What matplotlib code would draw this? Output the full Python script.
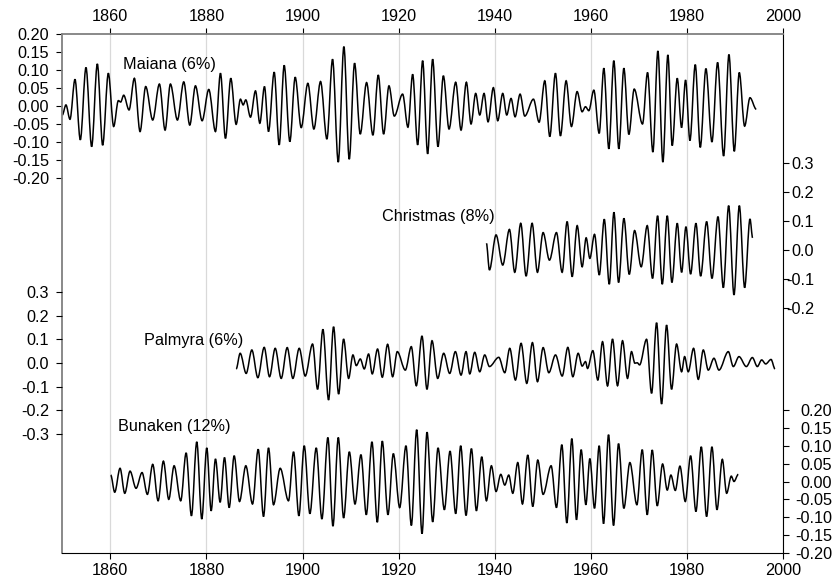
import matplotlib
matplotlib.use("Agg")
import matplotlib.pyplot as plt
from matplotlib.path import Path
from matplotlib.patches import PathPatch

plt.rcParams['font.family'] = ['Liberation Sans', 'DejaVu Sans']
plt.rcParams['axes.unicode_minus'] = False

# ---- data: turning points (year, value) of each filtered record ----
maiana_year = [1850.00, 1850.76, 1851.60, 1852.64, 1853.75, 1854.93, 1856.11, 1857.29, 1858.40, 1859.58,
               1860.69, 1861.67, 1862.15, 1862.78, 1863.89, 1865.00, 1866.18, 1867.36, 1868.82, 1870.21,
               1871.39, 1872.50, 1873.96, 1875.28, 1876.53, 1877.71, 1879.10, 1880.49, 1881.88, 1882.92,
               1883.96, 1885.07, 1886.18, 1887.08, 1887.64, 1888.19, 1889.17, 1890.21, 1891.11, 1892.08,
               1892.92, 1894.10, 1895.14, 1896.18, 1897.36, 1898.47, 1899.72, 1901.11, 1902.36, 1903.75,
               1905.07, 1906.25, 1907.43, 1908.61, 1909.72, 1910.83, 1912.01, 1913.33, 1914.65, 1915.76,
               1916.88, 1917.99, 1919.10, 1920.83, 1921.94, 1922.92, 1923.96, 1925.00, 1926.04, 1927.08,
               1928.19, 1929.31, 1930.49, 1931.88, 1932.99, 1934.10, 1935.07, 1936.04, 1936.88, 1937.78,
               1938.61, 1939.72, 1940.63, 1941.67, 1942.50, 1943.40, 1944.24, 1945.28, 1946.25, 1948.06,
               1949.24, 1950.42, 1951.46, 1952.64, 1953.68, 1954.86, 1955.97, 1957.15, 1958.19, 1958.89,
               1959.58, 1960.63, 1961.74, 1962.71, 1963.75, 1964.79, 1965.83, 1966.88, 1967.92, 1969.03,
               1970.76, 1971.81, 1972.92, 1973.96, 1975.00, 1976.04, 1976.94, 1977.99, 1978.89, 1979.72,
               1980.63, 1981.74, 1982.78, 1983.96, 1985.21, 1986.39, 1987.64, 1988.75, 1989.86, 1990.90,
               1992.01, 1993.13, 1994.44]
maiana_value = [-0.025, 0.003, -0.037, 0.074, -0.094, 0.107, -0.113, 0.117, -0.109, 0.091,
                -0.057, 0.015, 0.011, 0.030, -0.011, 0.077, -0.071, 0.054, -0.039, 0.061,
                -0.067, 0.061, -0.039, 0.067, -0.053, 0.056, -0.041, 0.046, -0.071, 0.091,
                -0.090, 0.077, -0.051, 0.019, 0.003, 0.017, -0.031, 0.042, -0.048, 0.054,
                -0.071, 0.094, -0.108, 0.113, -0.099, 0.080, -0.060, 0.063, -0.064, 0.068,
                -0.092, 0.130, -0.156, 0.165, -0.148, 0.119, -0.078, 0.065, -0.081, 0.086,
                -0.078, 0.056, -0.028, 0.033, -0.059, 0.088, -0.108, 0.126, -0.133, 0.130,
                -0.113, 0.084, -0.064, 0.066, -0.067, 0.066, -0.050, 0.035, -0.025, 0.035,
                -0.044, 0.051, -0.041, 0.035, -0.025, 0.021, -0.030, 0.033, -0.028, 0.019,
                -0.045, 0.070, -0.085, 0.091, -0.083, 0.070, -0.057, 0.040, -0.016, -0.002,
                -0.013, 0.044, -0.076, 0.105, -0.119, 0.126, -0.119, 0.105, -0.079, 0.047,
                -0.050, 0.093, -0.128, 0.153, -0.156, 0.142, -0.110, 0.077, -0.060, 0.072,
                -0.096, 0.115, -0.115, 0.104, -0.100, 0.121, -0.139, 0.143, -0.126, 0.093,
                -0.056, 0.023, -0.009]

christmas_year = [1938.27, 1938.90, 1940.28, 1941.67, 1943.06, 1944.17, 1945.42, 1946.53, 1947.78, 1948.89,
                  1950.07, 1951.39, 1952.85, 1954.03, 1955.07, 1956.12, 1957.16, 1958.20, 1959.03, 1959.80,
                  1960.77, 1961.76, 1962.80, 1963.84, 1964.81, 1965.78, 1966.89, 1968.00, 1969.11, 1970.49,
                  1971.74, 1972.85, 1973.90, 1974.87, 1975.91, 1976.88, 1977.99, 1978.90, 1979.80, 1980.77,
                  1981.88, 1982.86, 1984.11, 1985.22, 1986.47, 1987.58, 1988.69, 1989.80, 1990.91, 1992.02,
                  1993.13, 1993.68]
christmas_value = [0.022, -0.070, 0.051, -0.053, 0.070, -0.078, 0.091, -0.091, 0.091, -0.078,
                   0.059, -0.036, 0.059, -0.078, 0.097, -0.093, 0.083, -0.059, 0.041, -0.030,
                   0.053, -0.087, 0.105, -0.119, 0.129, -0.113, 0.108, -0.085, 0.066, -0.059,
                   0.083, -0.099, 0.117, -0.119, 0.117, -0.113, 0.091, -0.078, 0.079, -0.084,
                   0.091, -0.091, 0.097, -0.099, 0.114, -0.131, 0.152, -0.156, 0.152, -0.131,
                   0.106, 0.041]

palmyra_year = [1886.19, 1887.02, 1888.27, 1889.45, 1890.70, 1892.02, 1893.13, 1894.31, 1895.56, 1896.81,
                1897.99, 1899.31, 1900.56, 1902.09, 1903.13, 1904.24, 1905.42, 1906.46, 1907.51, 1908.55,
                1909.59, 1910.49, 1911.19, 1912.02, 1912.85, 1913.75, 1914.51, 1915.62, 1916.60, 1917.71,
                1918.75, 1919.72, 1921.39, 1922.64, 1923.68, 1924.86, 1925.90, 1926.95, 1928.13, 1929.38,
                1930.63, 1931.81, 1932.99, 1934.03, 1934.80, 1935.84, 1936.88, 1937.92, 1938.90, 1940.84,
                1942.09, 1943.13, 1944.31, 1945.49, 1946.67, 1947.85, 1948.90, 1950.08, 1951.26, 1952.65,
                1954.04, 1955.22, 1956.26, 1957.37, 1958.20, 1958.90, 1959.31, 1960.42, 1961.46, 1962.44,
                1963.48, 1964.52, 1965.56, 1966.60, 1967.64, 1968.47, 1969.17, 1969.66, 1970.15, 1971.61,
                1972.65, 1973.69, 1974.73, 1975.77, 1976.81, 1977.85, 1978.90, 1979.52, 1980.28, 1981.39,
                1982.37, 1983.41, 1984.45, 1985.63, 1986.67, 1988.62, 1989.66, 1990.84, 1992.37, 1993.62,
                1994.66, 1995.56, 1996.40, 1997.51, 1998.34]
palmyra_value = [-0.025, 0.041, -0.044, 0.055, -0.062, 0.066, -0.058, 0.062, -0.065, 0.065,
                 -0.065, 0.062, -0.055, 0.080, -0.111, 0.142, -0.156, 0.153, -0.131, 0.101,
                 -0.065, 0.034, -0.011, 0.017, -0.025, 0.038, -0.046, 0.059, -0.060, 0.079,
                 -0.058, 0.048, -0.030, 0.069, -0.096, 0.114, -0.111, 0.094, -0.065, 0.041,
                 -0.044, 0.048, -0.051, 0.048, -0.046, 0.045, -0.037, 0.034, -0.015, 0.024,
                 -0.041, 0.062, -0.072, 0.083, -0.086, 0.086, -0.079, 0.065, -0.041, 0.034,
                 -0.055, 0.066, -0.058, 0.041, -0.013, 0.006, -0.023, 0.052, -0.072, 0.090,
                 -0.097, 0.101, -0.096, 0.094, -0.065, 0.048, -0.001, 0.001, -0.008, 0.100,
                 -0.128, 0.170, -0.173, 0.160, -0.111, 0.080, -0.037, 0.027, -0.037, 0.062,
                 -0.069, 0.055, -0.030, 0.020, -0.030, 0.048, -0.015, 0.027, -0.015, 0.023,
                 -0.015, 0.013, -0.004, 0.015, -0.025]

bunaken_year = [1860.08, 1860.91, 1862.02, 1863.00, 1864.10, 1865.35, 1866.60, 1867.71, 1868.82, 1869.94,
                1871.04, 1872.16, 1873.27, 1874.65, 1875.77, 1876.88, 1877.99, 1879.03, 1880.07, 1880.98,
                1881.88, 1882.85, 1883.76, 1884.73, 1885.77, 1886.88, 1888.20, 1889.59, 1890.77, 1891.88,
                1892.92, 1893.96, 1895.35, 1897.08, 1898.13, 1899.24, 1900.35, 1901.53, 1902.85, 1904.03,
                1905.28, 1906.33, 1907.44, 1908.55, 1909.74, 1910.92, 1912.16, 1913.27, 1914.45, 1915.56,
                1916.60, 1917.78, 1918.90, 1920.22, 1921.53, 1922.65, 1923.76, 1924.87, 1925.91, 1927.09,
                1928.20, 1929.52, 1930.70, 1931.88, 1932.92, 1934.03, 1935.15, 1936.19, 1937.30, 1938.27,
                1939.31, 1940.28, 1941.26, 1942.09, 1942.92, 1943.76, 1944.80, 1945.77, 1946.88, 1947.92,
                1948.96, 1950.07, 1951.74, 1952.85, 1953.97, 1955.01, 1956.05, 1957.02, 1957.99, 1958.97,
                1959.80, 1960.77, 1961.74, 1962.65, 1963.69, 1964.73, 1965.77, 1966.88, 1968.13, 1969.59,
                1970.70, 1971.74, 1972.78, 1973.83, 1974.94, 1975.91, 1976.67, 1977.58, 1978.55, 1979.66,
                1980.77, 1981.88, 1982.99, 1984.10, 1985.21, 1986.26, 1987.37, 1988.27, 1989.24, 1989.80,
                1990.70]
bunaken_value = [0.018, -0.030, 0.037, -0.033, 0.029, -0.019, 0.025, -0.036, 0.048, -0.054,
                 0.057, -0.050, 0.044, -0.054, 0.080, -0.096, 0.111, -0.105, 0.094, -0.082,
                 0.063, -0.058, 0.067, -0.073, 0.072, -0.056, 0.044, -0.063, 0.090, -0.098,
                 0.094, -0.065, 0.037, -0.054, 0.083, -0.096, 0.100, -0.090, 0.094, -0.105,
                 0.123, -0.125, 0.123, -0.102, 0.083, -0.063, 0.075, -0.093, 0.111, -0.114,
                 0.113, -0.093, 0.078, -0.073, 0.100, -0.123, 0.145, -0.146, 0.138, -0.113,
                 0.094, -0.079, 0.085, -0.090, 0.100, -0.095, 0.092, -0.082, 0.069, -0.054,
                 0.044, -0.028, 0.020, -0.010, 0.018, -0.033, 0.053, -0.063, 0.074, -0.070,
                 0.060, -0.036, 0.044, -0.073, 0.103, -0.116, 0.120, -0.107, 0.089, -0.065,
                 0.064, -0.075, 0.100, -0.118, 0.131, -0.123, 0.106, -0.075, 0.053, -0.065,
                 0.089, -0.093, 0.088, -0.068, 0.049, -0.024, 0.018, -0.025, 0.043, -0.056,
                 0.072, -0.084, 0.097, -0.098, 0.097, -0.079, 0.062, -0.033, 0.015, 0.000,
                 0.020]

series_labels = ["Maiana (6%)", "Christmas (8%)", "Palmyra (6%)", "Bunaken (12%)"]
year_ticks = [1860, 1880, 1900, 1920, 1940, 1960, 1980, 2000]
maiana_ticks = [0.20, 0.15, 0.10, 0.05, 0.00, -0.05, -0.10, -0.15, -0.20]
christmas_ticks = [0.3, 0.2, 0.1, 0.0, -0.1, -0.2]
palmyra_ticks = [0.3, 0.2, 0.1, 0.0, -0.1, -0.2, -0.3]
bunaken_ticks = [0.20, 0.15, 0.10, 0.05, 0.00, -0.05, -0.10, -0.15, -0.20]


def smooth_path(years, values):
    """Smooth curve through the turning points (flat tangent at each one)."""
    verts = [(years[0], values[0])]
    codes = [Path.MOVETO]
    for i in range(1, len(years)):
        t0, v0 = years[i - 1], values[i - 1]
        t1, v1 = years[i], values[i]
        dt = t1 - t0
        verts += [(t0 + dt / 3.0, v0), (t1 - dt / 3.0, v1), (t1, v1)]
        codes += [Path.CURVE4] * 3
    return Path(verts, codes)


W, H = 839, 585
fig = plt.figure(figsize=(W / 100, H / 100), dpi=100)
x0, x1, ytop, ybot = 62.3, 783.0, 34.0, 553.0
rect = [x0 / W, 1 - ybot / H, (x1 - x0) / W, (ybot - ytop) / H]

FS = 11.7
LW = 1.1
TL = 4.5
PAD = 5

ax = fig.add_axes(rect)
ax.set_xlim(1850, 2000)
ax.set_xticks(year_ticks)
ax.tick_params(axis='x', which='both', top=True, labeltop=True, bottom=True, labelbottom=True,
               direction='out', length=TL, width=0.8, labelsize=FS, pad=3)
ax.grid(axis='x', color='#d9d9d9', lw=0.9)
ax.set_axisbelow(True)

# Maiana (left, top)
ax.set_ylim(-1.2417, 0.2)
ax.set_yticks(maiana_ticks)
ax.set_yticklabels([f"{t:.2f}" for t in maiana_ticks])
ax.tick_params(axis='y', direction='out', length=TL, labelsize=FS, pad=PAD)
ax.add_patch(PathPatch(smooth_path(maiana_year, maiana_value), fill=False, lw=LW, color='black'))
ax.text(1862.6, 0.114, series_labels[0], fontsize=FS, ha='left', va='center')

for side in ['top', 'left']:
    ax.spines[side].set_color('#808080')
    ax.spines[side].set_linewidth(1.3)
ax.spines['bottom'].set_color('black')
ax.spines['right'].set_color('black')

# Christmas (right, labels right-aligned)
axc = ax.twinx()
axc.set_ylim(-1.0459, 0.7438)
axc.set_yticks(christmas_ticks)
labs = axc.set_yticklabels([f"{t:.1f}" for t in christmas_ticks])
for t in labs:
    t.set_horizontalalignment('right')
axc.tick_params(axis='y', direction='out', length=TL, labelsize=FS, pad=18)
axc.add_patch(PathPatch(smooth_path(christmas_year, christmas_value), fill=False, lw=LW, color='black'))
axc.text(1940.0, 0.113, series_labels[1], fontsize=FS, ha='right', va='center')
for s in axc.spines.values():
    s.set_visible(False)

# Palmyra (left)
axp = ax.twinx()
axp.yaxis.tick_left()
axp.set_ylim(-0.8017, 1.3882)
axp.set_yticks(palmyra_ticks)
axp.set_yticklabels([f"{t:.1f}" for t in palmyra_ticks])
axp.tick_params(axis='y', direction='out', length=TL, labelsize=FS, pad=PAD)
axp.add_patch(PathPatch(smooth_path(palmyra_year, palmyra_value), fill=False, lw=LW, color='black'))
axp.text(1887.6, 0.097, series_labels[2], fontsize=FS, ha='right', va='center')
for s in axp.spines.values():
    s.set_visible(False)

# Bunaken (right, bottom, labels right-aligned)
axb = ax.twinx()
axb.set_ylim(-0.2, 1.2518)
axb.set_yticks(bunaken_ticks)
labs = axb.set_yticklabels([f"{t:.2f}" for t in bunaken_ticks])
for t in labs:
    t.set_horizontalalignment('right')
axb.tick_params(axis='y', direction='out', length=TL, labelsize=FS, pad=31)
axb.add_patch(PathPatch(smooth_path(bunaken_year, bunaken_value), fill=False, lw=LW, color='black'))
axb.text(1861.6, 0.155, series_labels[3], fontsize=FS, ha='left', va='center')
for s in axb.spines.values():
    s.set_visible(False)

fig.savefig("out.png", dpi=100)
